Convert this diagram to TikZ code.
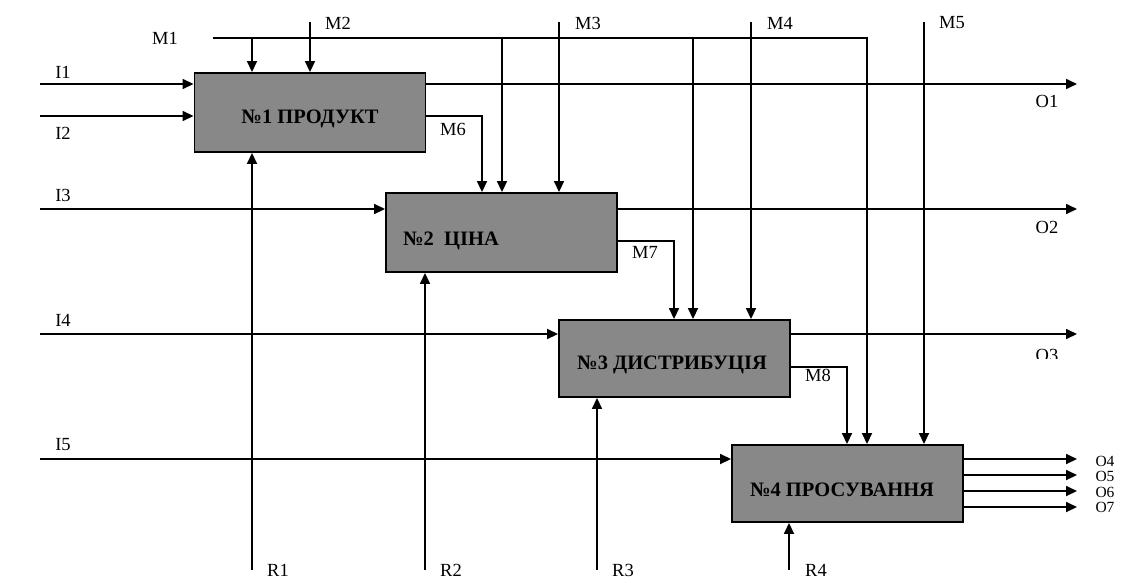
\documentclass[tikz,border=0pt]{standalone}
\usepackage{fontspec}
\setmainfont{Liberation Serif}
\usetikzlibrary{arrows.meta}
\definecolor{boxgray}{RGB}{136,136,136}
\begin{document}
\begin{tikzpicture}[x=1pt,y=-1pt,line width=1.7pt,
  box/.style={draw,fill=boxgray,minimum width=231pt,inner sep=0pt,line width=1.9pt},
  arr/.style={-{Triangle[length=11pt,width=10pt]}},
  lbl/.style={font=\fontsize{18.5}{18.5}\selectfont,inner sep=0pt},
  olbl/.style={font=\fontsize{15.5}{15.5}\selectfont,inner sep=0pt},
  btxt/.style={font=\bfseries\fontsize{20.5}{20.5}\selectfont,inner sep=0pt}]
\path[use as bounding box,fill=white] (0,0) rectangle (1122,582);
% boxes
\node[box,minimum height=79pt] (b1) at (310,112.5) {};
\node[box,minimum height=79pt] (b2) at (501.5,232.5) {};
\node[box,minimum height=77pt] (b3) at (674.5,358.5) {};
\node[box,minimum height=77pt] (b4) at (847.5,483.5) {};
\node[btxt] (t1) at (310,119) {№1 ПРОДУКТ};
\node[btxt] (t2) at (451,241) {№2~~ЦІНА};
\node[btxt] (t3) at (672,365) {№3 ДИСТРИБУЦІЯ};
\node[btxt] (t4) at (842,490) {№4 ПРОСУВАННЯ};
% inputs
\coordinate (i1) at (40,84);  \draw[arr] (i1) -- (i1 -| b1.west);
\coordinate (i2) at (40,116); \draw[arr] (i2) -- (i2 -| b1.west);
\coordinate (i3) at (40,209); \draw[arr] (i3) -- (i3 -| b2.west);
\coordinate (i4) at (40,334); \draw[arr] (i4) -- (i4 -| b3.west);
\coordinate (i5) at (40,459); \draw[arr] (i5) -- (i5 -| b4.west);
% outputs
\coordinate (o1) at (1077,84);  \draw[arr] (o1 -| b1.east) -- (o1);
\coordinate (o2) at (1077,209); \draw[arr] (o2 -| b2.east) -- (o2);
\coordinate (o3) at (1077,334); \draw[arr] (o3 -| b3.east) -- (o3);
\coordinate (o4) at (1077,459); \draw[arr] (o4 -| b4.east) -- (o4);
\coordinate (o5) at (1077,475); \draw[arr] (o5 -| b4.east) -- (o5);
\coordinate (o6) at (1077,491); \draw[arr] (o6 -| b4.east) -- (o6);
\coordinate (o7) at (1077,507); \draw[arr] (o7 -| b4.east) -- (o7);
% mechanisms from below
\coordinate (r1) at (252,570); \draw[arr] (r1) -- (r1 |- b1.south);
\coordinate (r2) at (425,570); \draw[arr] (r2) -- (r2 |- b2.south);
\coordinate (r3) at (597,570); \draw[arr] (r3) -- (r3 |- b3.south);
\coordinate (r4) at (789,570); \draw[arr] (r4) -- (r4 |- b4.south);
% controls
\coordinate (m1a) at (213,38); \coordinate (m1b) at (867,38);
\draw[arr] (m1a) -- (m1b) -- (m1b |- b4.north);
\coordinate (m1x1) at (252,38); \draw[arr] (m1x1) -- (m1x1 |- b1.north);
\coordinate (m1x2) at (502,38); \draw[arr] (m1x2) -- (m1x2 |- b2.north);
\coordinate (m1x3) at (693,38); \draw[arr] (m1x3) -- (m1x3 |- b3.north);
\coordinate (m2) at (310,22); \draw[arr] (m2) -- (m2 |- b1.north);
\coordinate (m3) at (559,22); \draw[arr] (m3) -- (m3 |- b2.north);
\coordinate (m4) at (751,22); \draw[arr] (m4) -- (m4 |- b3.north);
\coordinate (m5) at (924,22); \draw[arr] (m5) -- (m5 |- b4.north);
\coordinate (m6) at (482,116); \draw[arr] (m6 -| b1.east) -- (m6) -- (m6 |- b2.north);
\coordinate (m7) at (674,241); \draw[arr] (m7 -| b2.east) -- (m7) -- (m7 |- b3.north);
\coordinate (m8) at (847,367); \draw[arr] (m8 -| b3.east) -- (m8) -- (m8 |- b4.north);
% labels
\node[lbl] (li1) at (63,72) {I1};
\node[lbl] (li2) at (63,133) {I2};
\node[lbl] (li3) at (63,195) {I3};
\node[lbl] (li4) at (63,320) {I4};
\node[lbl] (li5) at (63,445) {I5};
\node[lbl] (lm1) at (165,38) {M1};
\node[lbl] (lm2) at (338,23) {M2};
\node[lbl] (lm3) at (588,23) {M3};
\node[lbl] (lm4) at (780,23) {M4};
\node[lbl] (lm5) at (952,23) {M5};
\node[lbl] (lm6) at (453,129) {M6};
\node[lbl] (lm7) at (645,252) {M7};
\node[lbl] (lm8) at (818,375) {M8};
\node[lbl] (lo1) at (1047,101) {O1};
\node[lbl] (lo2) at (1047,227) {O2};
\begin{scope}
\clip (1000,330) rectangle (1122,358);
\node[lbl] (lo3) at (1047,355) {O3};
\end{scope}
\node[olbl] (lo4) at (1105,461) {O4};
\node[olbl] (lo5) at (1105,476) {O5};
\node[olbl] (lo6) at (1105,492) {O6};
\node[olbl] (lo7) at (1105,507) {O7};
\node[lbl] (lr1) at (278,570) {R1};
\node[lbl] (lr2) at (451,570) {R2};
\node[lbl] (lr3) at (623,570) {R3};
\node[lbl] (lr4) at (816,570) {R4};
\end{tikzpicture}
\end{document}
